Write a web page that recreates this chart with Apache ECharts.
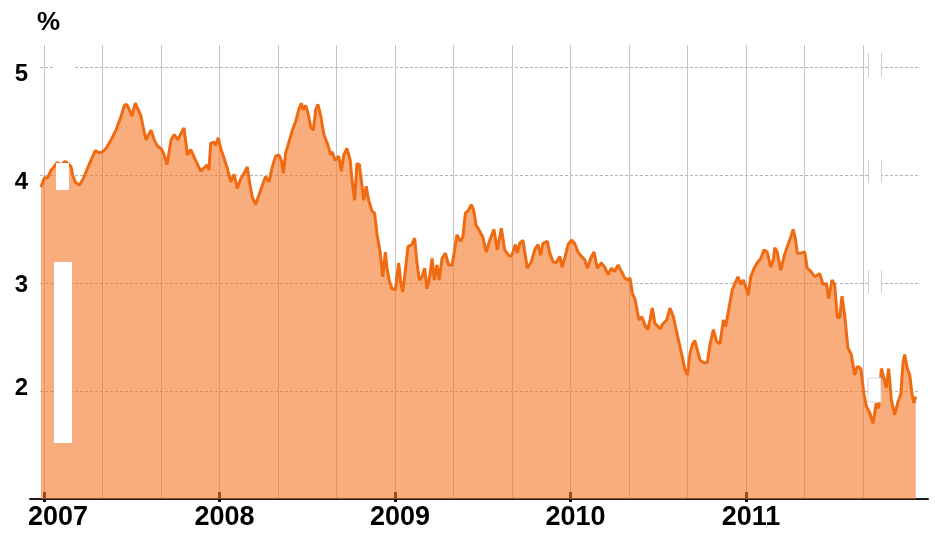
<!DOCTYPE html>
<html>
<head>
<meta charset="utf-8">
<script src="https://cdn.jsdelivr.net/npm/echarts@6/dist/echarts.min.js"></script>
<style>
html,body{margin:0;padding:0;background:#fff;}
#chart{width:935px;height:533px;}
</style>
</head>
<body>
<div id="chart"></div>
<script>
// Time as decimal years
const timeYears = [
2006.983,2007.002,2007.021,2007.040,2007.053,2007.074,2007.097,2007.120,2007.137,2007.154,
2007.164,2007.178,2007.201,2007.221,2007.249,2007.278,2007.292,2007.315,2007.334,2007.353,
2007.382,2007.410,2007.439,2007.458,2007.471,2007.486,2007.501,2007.520,2007.534,2007.553,
2007.566,2007.581,2007.600,2007.610,2007.628,2007.648,2007.667,2007.685,2007.701,2007.724,
2007.742,2007.762,2007.790,2007.798,2007.817,2007.836,2007.864,2007.893,2007.912,2007.930,
2007.940,2007.950,2007.969,2007.978,2007.993,2008.007,2008.026,2008.044,2008.064,2008.083,
2008.101,2008.121,2008.140,2008.158,2008.174,2008.187,2008.206,2008.225,2008.244,2008.263,
2008.282,2008.301,2008.320,2008.339,2008.354,2008.364,2008.377,2008.396,2008.415,2008.434,
2008.453,2008.466,2008.477,2008.491,2008.504,2008.520,2008.535,2008.548,2008.561,2008.577,
2008.595,2008.614,2008.634,2008.641,2008.660,2008.679,2008.694,2008.708,2008.726,2008.745,
2008.755,2008.770,2008.783,2008.797,2008.812,2008.822,2008.836,2008.850,2008.869,2008.884,
2008.897,2008.916,2008.930,2008.945,2008.954,2008.968,2008.983,2009.002,2009.021,2009.033,
2009.044,2009.059,2009.074,2009.097,2009.112,2009.125,2009.139,2009.154,2009.169,2009.182,
2009.198,2009.211,2009.224,2009.239,2009.252,2009.268,2009.287,2009.306,2009.325,2009.340,
2009.353,2009.372,2009.387,2009.401,2009.420,2009.435,2009.448,2009.462,2009.477,2009.500,
2009.520,2009.540,2009.564,2009.583,2009.606,2009.625,2009.648,2009.663,2009.686,2009.697,
2009.711,2009.729,2009.754,2009.777,2009.796,2009.815,2009.830,2009.843,2009.868,2009.882,
2009.900,2009.919,2009.939,2009.952,2009.970,2009.986,2010.005,2010.024,2010.043,2010.062,
2010.081,2010.096,2010.115,2010.134,2010.153,2010.176,2010.195,2010.214,2010.233,2010.252,
2010.271,2010.290,2010.309,2010.326,2010.339,2010.352,2010.368,2010.390,2010.406,2010.425,
2010.440,2010.453,2010.466,2010.481,2010.510,2010.529,2010.548,2010.567,2010.586,2010.605,
2010.624,2010.637,2010.652,2010.666,2010.681,2010.694,2010.708,2010.723,2010.738,2010.761,
2010.780,2010.795,2010.814,2010.833,2010.852,2010.871,2010.884,2010.903,2010.922,2010.937,
2010.954,2010.970,2010.985,2010.998,2011.013,2011.027,2011.046,2011.064,2011.084,2011.103,
2011.121,2011.141,2011.156,2011.164,2011.178,2011.198,2011.217,2011.235,2011.255,2011.268,
2011.281,2011.292,2011.312,2011.335,2011.349,2011.369,2011.392,2011.420,2011.439,2011.458,
2011.471,2011.490,2011.505,2011.520,2011.534,2011.547,2011.562,2011.581,2011.600,2011.619,
2011.634,2011.654,2011.672,2011.686,2011.705,2011.724,2011.742,2011.756,2011.771,2011.786,
2011.799,2011.813,2011.828,2011.847,2011.866,2011.882,2011.895,2011.904,2011.919,2011.933,
2011.946,2011.957,2011.967
];
// Yield, %
const yieldPct = [
3.89,3.98,3.98,4.05,4.07,4.12,4.10,4.13,4.11,4.08,
4.00,3.94,3.91,3.96,4.07,4.18,4.23,4.21,4.22,4.25,
4.33,4.42,4.55,4.65,4.66,4.61,4.55,4.67,4.62,4.55,
4.44,4.33,4.39,4.42,4.33,4.27,4.25,4.19,4.10,4.33,
4.38,4.33,4.42,4.44,4.19,4.24,4.14,4.04,4.07,4.10,
4.05,4.30,4.31,4.28,4.35,4.25,4.16,4.07,3.94,4.01,
3.88,3.97,4.02,4.08,3.91,3.80,3.73,3.82,3.91,3.99,
3.94,4.08,4.18,4.19,4.13,4.02,4.21,4.31,4.42,4.50,
4.62,4.67,4.61,4.65,4.58,4.45,4.42,4.61,4.66,4.55,
4.38,4.30,4.19,4.22,4.14,4.18,4.04,4.19,4.25,4.14,
3.96,3.77,4.11,4.10,3.90,3.77,3.90,3.77,3.67,3.65,
3.46,3.28,3.06,3.29,3.15,3.02,2.95,2.94,3.19,3.00,
2.92,3.12,3.34,3.36,3.42,3.19,3.03,3.06,3.14,2.95,
3.06,3.23,3.03,3.17,3.03,3.23,3.28,3.17,3.17,3.31,
3.45,3.39,3.43,3.65,3.68,3.73,3.68,3.54,3.50,3.43,
3.29,3.40,3.50,3.31,3.51,3.31,3.26,3.25,3.36,3.28,
3.37,3.40,3.14,3.20,3.31,3.36,3.26,3.37,3.39,3.28,
3.20,3.19,3.25,3.15,3.25,3.36,3.40,3.37,3.29,3.25,
3.22,3.14,3.23,3.29,3.14,3.19,3.15,3.08,3.14,3.11,
3.17,3.11,3.05,3.03,3.05,2.91,2.85,2.66,2.69,2.61,
2.57,2.66,2.77,2.63,2.58,2.63,2.66,2.77,2.69,2.55,
2.41,2.32,2.20,2.15,2.35,2.43,2.47,2.38,2.29,2.26,
2.27,2.43,2.57,2.46,2.44,2.66,2.60,2.77,2.94,3.00,
3.06,2.99,3.03,2.97,2.89,3.06,3.14,3.19,3.23,3.31,
3.29,3.15,3.22,3.33,3.29,3.12,3.25,3.34,3.43,3.50,
3.42,3.28,3.28,3.29,3.14,3.11,3.06,3.09,2.99,3.00,
2.86,3.03,2.99,2.69,2.68,2.88,2.71,2.40,2.34,2.15,
2.23,2.21,1.97,1.86,1.80,1.70,1.89,1.84,2.21,2.12,
2.03,2.21,1.92,1.78,1.90,1.97,2.27,2.34,2.21,2.15,
1.97,1.89,1.95
];
const yearTicks = [2007, 2008, 2009, 2010, 2011];
const yTickLabels = [2, 3, 4, 5];

const seriesData = timeYears.map((t, i) => [t, yieldPct[i]]);

const chart = echarts.init(document.getElementById('chart'), null, {renderer: 'canvas'});
const FONT = 'Liberation Sans, Arial, sans-serif';

const option = {
  animation: false,
  backgroundColor: '#ffffff',
  grid: [
    {left: 30, right: 7, top: 45, bottom: 34},
    {left: 40, right: 17, top: 45, bottom: 34},
    {left: 44, right: 72, top: 45, bottom: 34}
  ],
  xAxis: [
    {
      gridIndex: 0, type: 'value', position: 'bottom',
      min: 2006.9202, max: 2012.0370,
      axisLine: {show: true, lineStyle: {color: '#1a1a1a', width: 2}},
      axisTick: {show: true, customValues: yearTicks, inside: false, length: 3, lineStyle: {color: '#111', width: 3}},
      axisLabel: {
        show: true, customValues: yearTicks, margin: 5,
        formatter: v => (v === yearTicks[0] ? '{first|' + v + '}' : '{yr|' + v + '}'),
        rich: {
          yr: {fontSize: 27, fontWeight: 'bold', color: '#000', fontFamily: FONT, padding: [0, 0, 0, 10]},
          first: {fontSize: 27, fontWeight: 'bold', color: '#000', fontFamily: FONT, padding: [0, 0, 0, 28]}
        }
      },
      splitLine: {show: false}
    },
    {
      gridIndex: 0, type: 'value', position: 'bottom', offset: 0,
      min: 2006.9202, max: 2012.0370,
      axisLine: {show: false},
      axisTick: {show: true, customValues: yearTicks, inside: true, length: 7, lineStyle: {color: '#111', width: 3}},
      axisLabel: {show: false},
      splitLine: {show: false}
    },
    {
      gridIndex: 1, type: 'value', min: 2006.9772, max: 2011.9801,
      axisLine: {show: false}, axisTick: {show: false}, axisLabel: {show: false}, splitLine: {show: false}
    },
    {
      gridIndex: 2, type: 'value', min: 0, max: 56, interval: 4,
      axisLine: {show: false}, axisTick: {show: false}, axisLabel: {show: false},
      splitLine: {show: true, lineStyle: {color: '#c4c4c4', width: 1, type: 'solid'}}
    }
  ],
  yAxis: [
    {gridIndex: 0, type: 'value', min: 1, max: 5.21, show: false},
    {
      gridIndex: 1, type: 'value', min: 1, max: 5.21, interval: 1,
      name: '%', nameLocation: 'end', nameGap: 9,
      nameTextStyle: {fontSize: 26, fontWeight: 'bold', color: '#000', fontFamily: FONT, align: 'center', verticalAlign: 'bottom', padding: [0, 0, 0, 17]},
      axisLine: {show: false}, axisTick: {show: false},
      axisLabel: {
        show: true, margin: 12, showMinLabel: false, showMaxLabel: false,
        formatter: v => (yTickLabels.indexOf(v) >= 0 ? '{l' + v + '|' + v + '}' : ''),
        rich: {
          l5: {fontSize: 24, fontWeight: 'bold', color: '#000', fontFamily: FONT, padding: [14, 0, 0, 0]},
          l4: {fontSize: 24, fontWeight: 'bold', color: '#000', fontFamily: FONT, padding: [14, 0, 0, 0]},
          l3: {fontSize: 24, fontWeight: 'bold', color: '#000', fontFamily: FONT, padding: [4, 0, 0, 0]},
          l2: {fontSize: 24, fontWeight: 'bold', color: '#000', fontFamily: FONT, padding: [0, 0, 6, 0]}
        }
      },
      splitLine: {show: true, showMinLine: false, showMaxLine: false, lineStyle: {color: '#b4b4b4', width: 1, type: [3, 2]}}
    },
    {gridIndex: 2, type: 'value', min: 1, max: 5.21, show: false}
  ],
  series: [
    {
      type: 'line',
      xAxisIndex: 2, yAxisIndex: 1,
      data: seriesData,
      showSymbol: false,
      symbol: 'none',
      smooth: false,
      lineStyle: {color: '#f06a12', width: 3},
      areaStyle: {color: 'rgba(246,118,36,0.6)', opacity: 1},
      z: 2
    }
  ],
  graphic: [
    {type: 'rect', z: 100, shape: {x: 54, y: 262, width: 18, height: 181}, style: {fill: '#ffffff'}},
    {type: 'rect', z: 100, shape: {x: 56, y: 163, width: 13, height: 27}, style: {fill: '#ffffff'}},
    {type: 'rect', z: 100, shape: {x: 53, y: 64, width: 20, height: 8}, style: {fill: '#ffffff'}},
    {type: 'rect', z: 100, shape: {x: 869, y: 64, width: 12, height: 8}, style: {fill: '#ffffff'}},
    {type: 'rect', z: 100, shape: {x: 869, y: 172, width: 12, height: 8}, style: {fill: '#ffffff'}},
    {type: 'rect', z: 100, shape: {x: 869, y: 280, width: 12, height: 8}, style: {fill: '#ffffff'}},
    {type: 'line', z: 100, shape: {x1: 868.5, y1: 53, x2: 868.5, y2: 77}, style: {stroke: '#cfcfcf', lineWidth: 1}},
    {type: 'line', z: 100, shape: {x1: 881.5, y1: 53, x2: 881.5, y2: 77}, style: {stroke: '#cfcfcf', lineWidth: 1}},
    {type: 'line', z: 100, shape: {x1: 868.5, y1: 160, x2: 868.5, y2: 183}, style: {stroke: '#cfcfcf', lineWidth: 1}},
    {type: 'line', z: 100, shape: {x1: 881.5, y1: 160, x2: 881.5, y2: 183}, style: {stroke: '#cfcfcf', lineWidth: 1}},
    {type: 'line', z: 100, shape: {x1: 868.5, y1: 270, x2: 868.5, y2: 293}, style: {stroke: '#cfcfcf', lineWidth: 1}},
    {type: 'line', z: 100, shape: {x1: 881.5, y1: 270, x2: 881.5, y2: 293}, style: {stroke: '#cfcfcf', lineWidth: 1}},
    {type: 'rect', z: 100, shape: {x: 868, y: 378, width: 13, height: 24}, style: {fill: '#ffffff', stroke: '#d6d6d6', lineWidth: 1}}
  ]
};
chart.setOption(option);
</script>
</body>
</html>
